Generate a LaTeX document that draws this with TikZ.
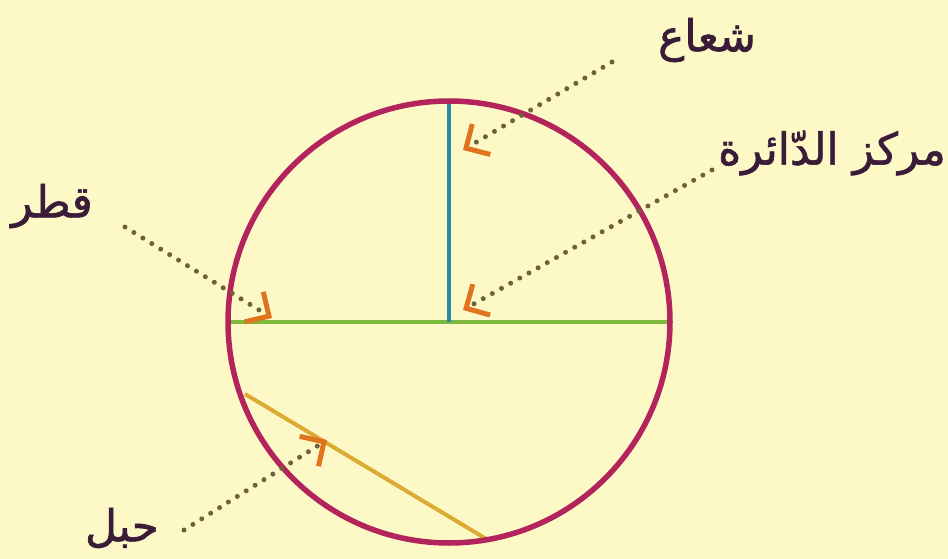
\documentclass[tikz,border=0pt]{standalone}
\usepackage{fontspec}
\newfontfamily\arabicfont[Script=Arabic, FakeBold=1.4]{DejaVu Sans}
\TeXXeTstate=1
\usetikzlibrary{arrows.meta}

\begin{document}
\begin{tikzpicture}[
    every node/.style={font=\arabicfont\fontsize{44}{50}\selectfont},
    % picture pixels: 1px -> 1pt, y grows downwards
    x=1pt, y=-1pt,
]

% ---------------------------------------------------------------- colours
\definecolor{bgyellow}{HTML}{FDF9C6}
\definecolor{rimred}{HTML}{B3245C}
\definecolor{radiusblue}{HTML}{2B8BA6}
\definecolor{diamgreen}{HTML}{7DB93C}
\definecolor{chordyellow}{HTML}{DDAA33}
\definecolor{tipor}{HTML}{E0741E}
\definecolor{dotbrown}{HTML}{6E6038}
\definecolor{textplum}{HTML}{3A1B38}

\tikzset{
    rim/.style={rimred, line width=5.5pt},
    seg/.style={line width=4.5pt},
    pointer/.style={dotbrown, line width=5pt, line cap=round,
                    dash pattern=on 0pt off 10.5pt,
                    -{Straight Barb[angle=90:25pt, line width=5pt, color=tipor]}},
    lbl/.style={text=textplum, inner sep=0pt},
}

% ---------------------------------------------------------------- page
\fill[bgyellow] (0,0) rectangle (948,559);
\useasboundingbox (0,0) rectangle (948,559);

% ---------------------------------------------------------------- the circle
\coordinate (centre) at (449,322);
\coordinate (top) at (449,102);
\coordinate (diamL) at (228,322);
\coordinate (diamR) at (670,322);
\coordinate (chordA) at (245,394);
\coordinate (chordB) at (488,540);

\draw[seg, diamgreen] (diamL) -- (diamR);
\draw[seg, radiusblue] (centre) -- (top);
\draw[seg, chordyellow, line width=4pt] (chordA) -- (chordB);
\draw[rim] (centre) circle[radius=221pt];

% ---------------------------------------------------------------- labels
\node[lbl] (radiuslbl) at (707,40) {\beginR شعاع\endR};
\node[lbl] (centrelbl) at (832,153) {\beginR مركز الدّائرة\endR};
\node[lbl] (diamlbl) at (52,206) {\beginR قطر\endR};
\node[lbl] (chordlbl) at (122,528) {\beginR حبل\endR};

% ---------------------------------------------------------------- pointers
\coordinate (radiusfrom) at (612,62);
\coordinate (radiustip) at (463,150);
\coordinate (centrefrom) at (712,170);
\coordinate (centretip) at (463,310);
\coordinate (diamfrom) at (125,227);
\coordinate (diamtip) at (272,318);
\coordinate (chordfrom) at (184,530);
\coordinate (chordtip) at (327,440);

\draw[pointer] (radiusfrom) -- (radiustip);
\draw[pointer] (centrefrom) -- (centretip);
\draw[pointer] (diamfrom) -- (diamtip);
\draw[pointer] (chordfrom) -- (chordtip);

\end{tikzpicture}
\end{document}
